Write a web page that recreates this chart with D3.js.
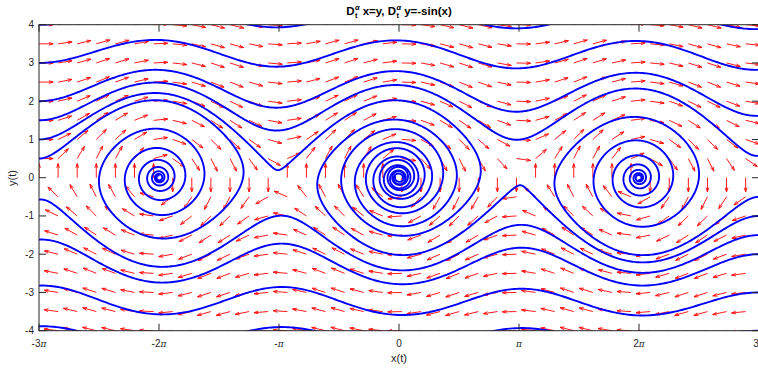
<!DOCTYPE html>
<html><head><meta charset="utf-8">
<script src="https://cdn.jsdelivr.net/npm/d3@7"></script>
<style>body{margin:0;background:#fff} svg{display:block}</style>
</head><body>
<svg id="chart" width="758" height="371"></svg>
<script>
const PI = Math.PI;
// fractional order and integration settings
const alpha = 0.95;
const tEnd = 50;
const stepH = 0.02;
// initial conditions of the trajectories
const startX = [-3*PI,-3*PI,-3*PI,-3*PI,-3*PI,-3*PI, 3*PI,3*PI,3*PI,3*PI,3*PI,3*PI];
const startY = [4,3,2,1.5,1,0.5, -4,-3,-2,-1.5,-1,-0.5];
// direction-field grid
const gridStep = 0.5;
const xTickValues = [-3*PI,-2*PI,-PI,0,PI,2*PI,3*PI];
const xTickNums = ["-3","-2","-","0","","2","3"];
const yTickValues = [-4,-3,-2,-1,0,1,2,3,4];

function gammaFn(z){
  const g=7, c=[0.99999999999980993,676.5203681218851,-1259.1392167224028,771.32342877765313,-176.61502916214059,12.507343278686905,-0.13857109526572012,9.9843695780195716e-6,1.5056327351493116e-7];
  if(z<0.5) return PI/(Math.sin(PI*z)*gammaFn(1-z));
  z-=1; let x=c[0]; for(let i=1;i<g+2;i++) x+=c[i]/(z+i);
  const t=z+g+0.5; return Math.sqrt(2*PI)*Math.pow(t,z+0.5)*Math.exp(-t)*x;
}
const N = Math.round(tEnd/stepH);
const pa = new Float64Array(N+3), pa1 = new Float64Array(N+3);
for(let k=0;k<N+3;k++){pa[k]=Math.pow(k,alpha); pa1[k]=Math.pow(k,alpha+1);}
const bw = new Float64Array(N+2), aw = new Float64Array(N+2);
for(let k=0;k<N+1;k++){ bw[k]=pa[k+1]-pa[k]; aw[k]=pa1[k+2]+pa1[k]-2*pa1[k+1]; }
const cP = Math.pow(stepH,alpha)/gammaFn(alpha+1);
const cC = Math.pow(stepH,alpha)/gammaFn(alpha+2);
function solve(x0,y0){
  const X=new Float64Array(N+1), Y=new Float64Array(N+1);
  const fx=new Float64Array(N+1), fy=new Float64Array(N+1);
  X[0]=x0; Y[0]=y0; fx[0]=y0; fy[0]=-Math.sin(x0);
  for(let n=0;n<N;n++){
    let px=0,py=0,sx=0,sy=0;
    for(let j=0;j<=n;j++){ const b=bw[n-j]; px+=b*fx[j]; py+=b*fy[j]; }
    const xp=x0+cP*px, yp=y0+cP*py;
    const a0=pa1[n]-(n-alpha)*pa[n+1];
    sx=a0*fx[0]; sy=a0*fy[0];
    for(let j=1;j<=n;j++){ const a=aw[n-j]; sx+=a*fx[j]; sy+=a*fy[j]; }
    const xn=x0+cC*(yp+sx), yn=y0+cC*(-Math.sin(xp)+sy);
    X[n+1]=xn; Y[n+1]=yn; fx[n+1]=yn; fy[n+1]=-Math.sin(xn);
  }
  const pts=[]; for(let i=0;i<=N;i++) pts.push([X[i],Y[i]]);
  return pts;
}

const svg = d3.select("#chart");
const L=39, R=759, T=24.7, B=330.7;
const x = d3.scaleLinear().domain([-3*PI,3*PI]).range([L,R]);
const y = d3.scaleLinear().domain([-4,4]).range([B,T]);
svg.append("defs").append("clipPath").attr("id","clip").append("rect")
  .attr("x",L).attr("y",T).attr("width",R-L).attr("height",B-T);
const plot = svg.append("g").attr("clip-path","url(#clip)");

// quiver
const gx = d3.range(-3*PI, 3*PI, gridStep), gy = d3.range(-4, 4+1e-9, gridStep);
const arrowLen = 0.37, headFrac = 0.3, headW = 0.33;
const arrows = [];
gx.forEach(px=>gy.forEach(py=>{
  let u=py, v=-Math.sin(px); const m=Math.hypot(u,v)||1; u/=m; v/=m;
  const ex=px+u*arrowLen, ey=py+v*arrowLen;
  const hx=ex-headFrac*arrowLen*(u+headW*v), hy=ey-headFrac*arrowLen*(v-headW*u);
  const kx=ex-headFrac*arrowLen*(u-headW*v), ky=ey-headFrac*arrowLen*(v+headW*u);
  arrows.push(`M${x(px)},${y(py)}L${x(ex)},${y(ey)}M${x(hx)},${y(hy)}L${x(ex)},${y(ey)}L${x(kx)},${y(ky)}`);
}));
plot.append("path").attr("d",arrows.join("")).attr("fill","none")
  .attr("stroke","#ff0000").attr("stroke-width",0.9);

// trajectories
const line = d3.line().x(d=>x(d[0])).y(d=>y(d[1]));
startX.forEach((sx,i)=>{
  const pts = solve(sx,startY[i]).map(p=>[Math.max(-20,Math.min(20,p[0])),Math.max(-8,Math.min(8,p[1]))]);
  plot.append("path").attr("d",line(pts)).attr("fill","none")
    .attr("stroke","#0000ff").attr("stroke-width",1.9);
});

// axes box
const ax = svg.append("g").attr("stroke","#262626").attr("stroke-width",1).attr("fill","none");
ax.append("rect").attr("x",L).attr("y",T).attr("width",R-L).attr("height",B-T);
xTickValues.forEach(v=>{
  ax.append("line").attr("x1",x(v)).attr("x2",x(v)).attr("y1",B).attr("y2",B-7);
  ax.append("line").attr("x1",x(v)).attr("x2",x(v)).attr("y1",T).attr("y2",T+7);
});
yTickValues.forEach(v=>{
  ax.append("line").attr("x1",L).attr("x2",L+7).attr("y1",y(v)).attr("y2",y(v));
  ax.append("line").attr("x1",R).attr("x2",R-7).attr("y1",y(v)).attr("y2",y(v));
});
const font="Liberation Sans, Arial, Helvetica, sans-serif";
xTickValues.forEach((v,i)=>{
  const t=svg.append("text").attr("x",x(v)).attr("y",347).attr("text-anchor","middle")
    .attr("font-family",font).attr("font-size",10).attr("fill","#262626");
  t.append("tspan").text(xTickNums[i]);
  if(v!==0) t.append("tspan").attr("font-family","DejaVu Serif, serif").attr("font-style","italic").attr("font-size",9).text("π");
});
yTickValues.forEach(v=>{
  svg.append("text").attr("x",34).attr("y",y(v)+3.5).attr("text-anchor","end")
    .attr("font-family",font).attr("font-size",10).attr("fill","#262626").text(v);
});
svg.append("text").attr("x",399).attr("y",362).attr("text-anchor","middle")
  .attr("font-family",font).attr("font-size",11).attr("fill","#262626").text("x(t)");
svg.append("text").attr("transform","translate(16,178) rotate(-90)").attr("text-anchor","middle")
  .attr("font-family",font).attr("font-size",11).attr("fill","#262626").text("y(t)");

// title
const tg = svg.append("g").attr("font-family",font).attr("font-weight","bold").attr("fill","#000");
let cx=0; const baseY=15;
function addText(s,size,dy,style){ const t=tg.append("text").attr("x",cx).attr("y",baseY+dy).attr("font-size",size).text(s); if(style) t.attr("font-style",style); return t; }
function scripts(){
  const a=addText("α",7.5,-5,"italic"); const w1=a.node().getComputedTextLength();
  const t=addText("t",7.5,3); const w2=t.node().getComputedTextLength();
  cx+=Math.max(w1,w2)+3;
}
let t1=addText("D",11.5,0); cx+=t1.node().getComputedTextLength()+0.5; scripts();
t1=addText("x=y, D",11.5,0); cx+=t1.node().getComputedTextLength()+0.5; scripts();
t1=addText("y=-sin(x)",11.5,0); cx+=t1.node().getComputedTextLength();
tg.attr("transform",`translate(${399-cx/2},0)`);
</script>
</body></html>
